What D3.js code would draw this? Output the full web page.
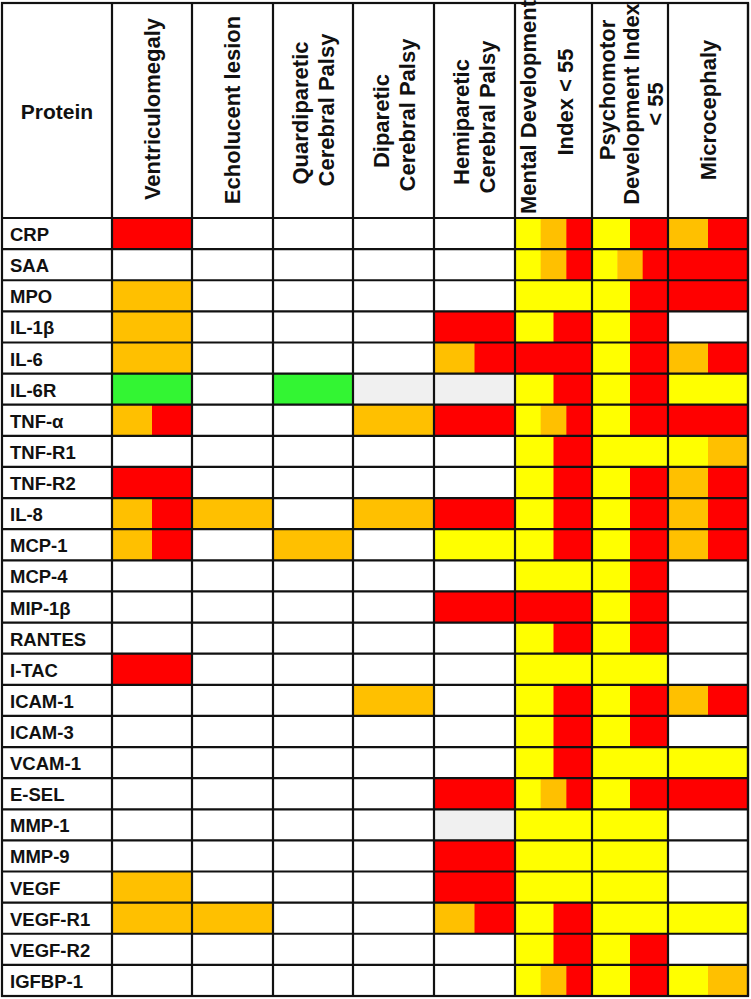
<!DOCTYPE html>
<html><head><meta charset="utf-8">
<script src="https://cdn.jsdelivr.net/npm/d3@7/dist/d3.min.js"></script>
<style>html,body{margin:0;padding:0;background:#fff;}svg{display:block;}</style>
</head><body>
<script>
// ---- DATA ----
const proteins = ["CRP","SAA","MPO","IL-1β","IL-6","IL-6R","TNF-α","TNF-R1","TNF-R2","IL-8","MCP-1","MCP-4","MIP-1β","RANTES","I-TAC","ICAM-1","ICAM-3","VCAM-1","E-SEL","MMP-1","MMP-9","VEGF","VEGF-R1","VEGF-R2","IGFBP-1"];
const outcomes = ["Ventriculomegaly","Echolucent lesion","Quardiparetic Cerebral Palsy","Diparetic Cerebral Palsy","Hemiparetic Cerebral Palsy","Mental Development Index < 55","Psychomotor Development Index < 55","Microcephaly"];
const headerLines = [
  ["Ventriculomegaly"],
  ["Echolucent lesion"],
  ["Quardiparetic","Cerebral Palsy"],
  ["Diparetic","Cerebral Palsy"],
  ["Hemiparetic","Cerebral Palsy"],
  ["Mental Development","Index < 55"],
  ["Psychomotor","Development Index","< 55"],
  ["Microcephaly"]
];
// cell codes: W white, Y yellow, O orange, R red, G green, L light grey; multiple letters split the cell
const ventriculomegaly = ["R","W","O","O","O","G","OR","W","R","OR","OR","W","W","W","R","W","W","W","W","W","W","O","O","W","W"];
const echolucent       = ["W","W","W","W","W","W","W","W","W","O","W","W","W","W","W","W","W","W","W","W","W","W","O","W","W"];
const quadriparetic    = ["W","W","W","W","W","G","W","W","W","W","O","W","W","W","W","W","W","W","W","W","W","W","W","W","W"];
const diparetic        = ["W","W","W","W","W","L","O","W","W","O","W","W","W","W","W","O","W","W","W","W","W","W","W","W","W"];
const hemiparetic      = ["W","W","W","R","OR","L","R","W","W","R","Y","W","R","W","W","W","W","W","R","L","R","R","OR","W","W"];
const mentalDev        = ["YOR","YOR","Y","YR","R","YR","YOR","YR","YR","YR","YR","Y","R","YR","Y","YR","YR","YR","YOR","Y","Y","Y","YR","YR","YOR"];
const psychomotorDev   = ["YR","YOR","YR","YR","YR","YR","YR","Y","YR","YR","YR","YR","YR","YR","Y","YR","YR","Y","YR","Y","Y","Y","Y","YR","YR"];
const microcephaly     = ["OR","R","R","W","OR","Y","R","YO","OR","OR","OR","W","W","W","W","OR","W","Y","R","W","W","W","Y","W","YO"];
const series = [ventriculomegaly, echolucent, quadriparetic, diparetic, hemiparetic, mentalDev, psychomotorDev, microcephaly];

// ---- LAYOUT / STYLE ----
const W = 751, H = 999;
const colEdges = [112,192,273,353,434,515,592,668,748];
const tableLeft = 2, tableTop = 3, headerBottom = 218, tableBottom = 996;
// header line placement: x offset from column centre, y centre of each line
const headerDx = [[0],[0],[-13,13],[-12,14],[-13,13],[-25,12],[-23,1,25],[0]];
const headerCy = [[109],[110],[113,110],[121,115],[122,117],[107,102],[90,104,104],[110]];
const palette = {W:"#ffffff", Y:"#ffff00", O:"#ffc000", R:"#ff0000", G:"#33f533", L:"#f0f0f0"};
const font = "'Liberation Sans', Arial, Helvetica, sans-serif";

const svg = d3.select("body").append("svg").attr("width", W).attr("height", H);

const x = d3.scaleLinear().domain(d3.range(colEdges.length)).range(colEdges);
const y = d3.scaleBand().domain(proteins).range([headerBottom, tableBottom]).padding(0);

// cells
const cells = [];
series.forEach((col, ci) => col.forEach((code, ri) => {
  const parts = code.split("");
  parts.forEach((c, k) => cells.push({ci, ri, k, n: parts.length, c}));
}));
svg.append("g").selectAll("rect").data(cells).join("rect")
  .attr("x", d => x(d.ci) + (x(d.ci + 1) - x(d.ci)) * d.k / d.n)
  .attr("width", d => (x(d.ci + 1) - x(d.ci)) / d.n + 0.5)
  .attr("y", d => y(proteins[d.ri]))
  .attr("height", y.bandwidth())
  .attr("fill", d => palette[d.c]);

// grid lines
const grid = svg.append("g").attr("stroke", "#111").attr("stroke-width", 2.2).attr("fill", "none");
grid.selectAll("line.h").data(proteins).join("line").attr("class","h")
  .attr("x1", tableLeft).attr("x2", colEdges[colEdges.length-1])
  .attr("y1", d => y(d)).attr("y2", d => y(d));
grid.selectAll("line.v").data(d3.range(colEdges.length)).join("line").attr("class","v")
  .attr("x1", d => x(d)).attr("x2", d => x(d))
  .attr("y1", tableTop).attr("y2", tableBottom);
grid.append("rect").attr("x", tableLeft).attr("y", tableTop)
  .attr("width", colEdges[colEdges.length-1] - tableLeft).attr("height", tableBottom - tableTop);

// row labels
svg.append("g").selectAll("text").data(proteins).join("text")
  .attr("x", 10).attr("y", d => y(d) + y.bandwidth()/2 + 1)
  .attr("dominant-baseline", "central")
  .attr("font-family", font).attr("font-weight", "bold").attr("font-size", 18.5)
  .attr("fill", "#111").text(d => d);

// header "Protein"
svg.append("text").attr("x", (tableLeft + colEdges[0]) / 2).attr("y", 111)
  .attr("text-anchor", "middle").attr("dominant-baseline", "central")
  .attr("font-family", font).attr("font-weight", "bold").attr("font-size", 21)
  .attr("fill", "#111").text("Protein");

// column headers (rotated)
const hg = svg.append("g");
headerLines.forEach((lines, ci) => {
  const cx = (x(ci) + x(ci + 1)) / 2;
  lines.forEach((t, li) => {
    hg.append("text")
      .attr("transform", `translate(${cx + headerDx[ci][li]},${headerCy[ci][li]}) rotate(-90)`)
      .attr("text-anchor", "middle").attr("dominant-baseline", "central")
      .attr("font-family", font).attr("font-weight", "bold").attr("font-size", 22)
      .attr("fill", "#111").text(t);
  });
});
</script>
</body></html>
